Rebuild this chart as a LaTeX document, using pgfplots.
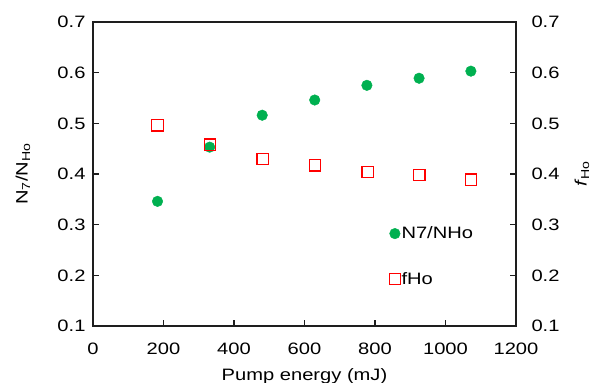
\documentclass[border=0pt]{standalone}
\usepackage{fontspec}
\setmainfont{Liberation Sans}[FakeStretch=1.22]
\usepackage{pgfplots}
\pgfplotsset{compat=1.18}
\usetikzlibrary{calc}
\definecolor{exgreen}{RGB}{0,176,80}
\definecolor{axgray}{RGB}{30,30,30}
\pgfdeclareplotmark{rsq}{%
  \pgfpathmoveto{\pgfqpoint{-\pgfplotmarksize}{-\pgfplotmarksize}}%
  \pgfpathlineto{\pgfqpoint{\pgfplotmarksize}{-\pgfplotmarksize}}%
  \pgfpathlineto{\pgfqpoint{\pgfplotmarksize}{\pgfplotmarksize}}%
  \pgfpathlineto{\pgfqpoint{-\pgfplotmarksize}{\pgfplotmarksize}}%
  \pgfpathclose
  \pgfusepathqstroke}
\begin{document}
\begin{tikzpicture}
\pgfplotsset{every axis/.append style={
  scale only axis, width=423pt, height=304pt,
  xmin=0, xmax=1200, ymin=0.1, ymax=0.7,
  font=\fontsize{16.5}{19}\selectfont,
  /pgf/number format/assume math mode=true,
  /pgf/number format/1000 sep={},
  ytick={0.1,0.2,0.3,0.4,0.5,0.6,0.7},
  yticklabel style={/pgf/number format/fixed, /pgf/number format/fixed zerofill, /pgf/number format/precision=1},
  tick align=inside, major tick length=6pt,
  axis line style={line width=1.1pt, axgray},
  tick style={line width=1.1pt, axgray},
}}
\begin{axis}[name=ax,
  xtick={0,200,400,600,800,1000,1200},
  xtick pos=bottom, ytick pos=left,
  xticklabel style={yshift=-13pt},
  yticklabel style={xshift=-4pt},
  xlabel={Pump energy (mJ)},
  xlabel style={at={(axis description cs:0.5,0)}, anchor=center, yshift=-50pt},
  ylabel={N\textsubscript{7}/N\textsubscript{Ho}},
  ylabel style={at={(axis description cs:0,0.5)}, anchor=center, yshift=70pt},
  legend style={at={(0.70,0.33)}, anchor=north west, draw=none, fill=none,
    row sep=30pt, inner sep=0pt, nodes={inner sep=1pt, anchor=west}},
  legend cell align=left,
  legend image code/.code={\draw[#1] plot coordinates {(0.15cm,0cm)};},
]
\addplot[only marks, mark=*, mark size=5.3pt, color=exgreen, mark options={draw=exgreen, fill=exgreen}] coordinates {
 (183,0.346) (331,0.453) (480,0.516) (629,0.546) (777,0.575) (925,0.589) (1072,0.603)};
\addlegendentry{N7/NHo}
\addplot[only marks, mark=rsq, mark size=5.6pt, color=red, mark options={draw=red, line width=1.1pt, solid}] coordinates {
 (183,0.496) (332,0.458) (481,0.430) (630,0.417) (779,0.404) (926,0.398) (1073,0.389)};
\addlegendentry{fHo}
\end{axis}
\begin{axis}[
  axis x line=none, axis y line*=right,
  yticklabel style={xshift=12pt},
  ylabel={\textit{f}\textsubscript{Ho}},
  ylabel style={at={(axis description cs:1,0.5)}, anchor=center, yshift=-66pt},
]
\end{axis}
\pgfresetboundingbox
\useasboundingbox ($(ax.south west)+(-93pt,-57pt)$) rectangle ($(ax.north east)+(75pt,22pt)$);
\end{tikzpicture}
\end{document}
